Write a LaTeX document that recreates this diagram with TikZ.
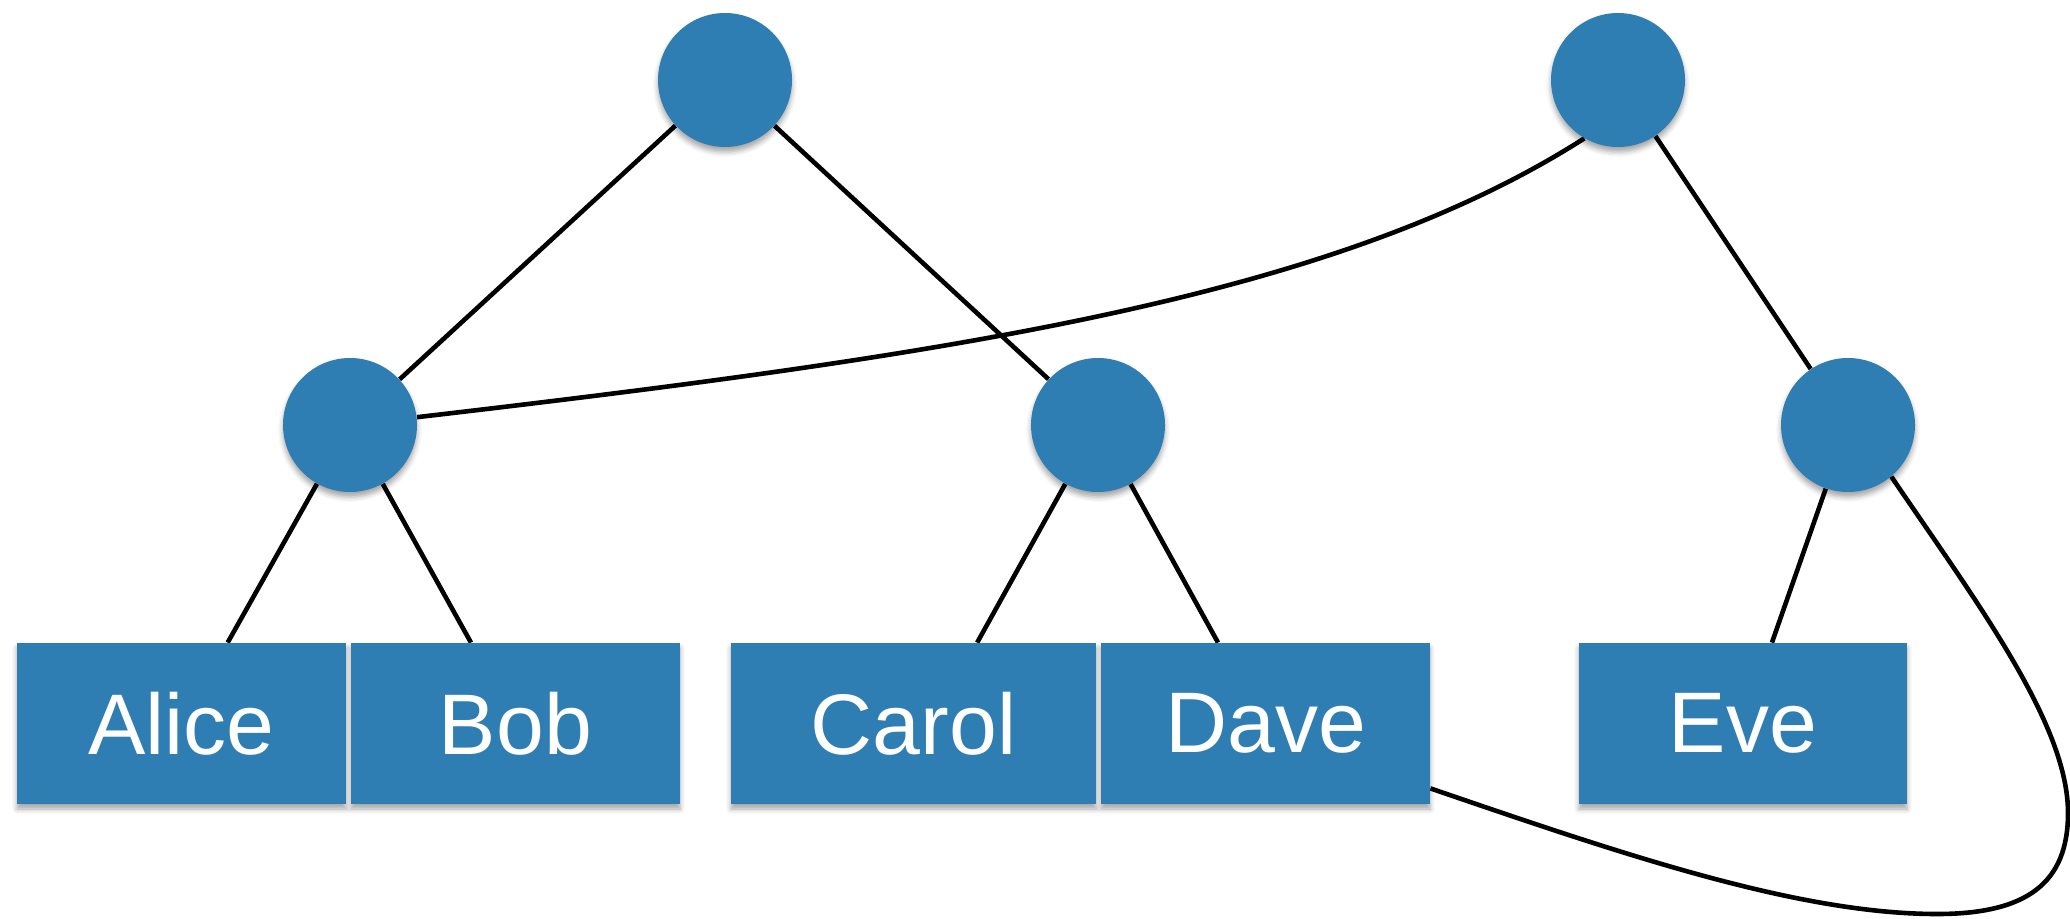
\documentclass[tikz,border=0pt]{standalone}
\usepackage{fontspec}
\setmainfont{Liberation Sans}
\usetikzlibrary{calc,backgrounds,shadows.blur}
\definecolor{nodeblue}{RGB}{46,126,180}
\tikzset{
  inner/.style={circle, fill=nodeblue, minimum size=67pt, inner sep=0pt,
    blur shadow={shadow xshift=0pt, shadow yshift=-2.5pt, shadow blur radius=2.5pt, shadow opacity=35}},
  leaf/.style={rectangle, fill=nodeblue, minimum height=80.5pt, inner sep=0pt,
    text=white, font=\fontsize{43}{50}\selectfont,
    blur shadow={shadow xshift=0pt, shadow yshift=-2.5pt, shadow blur radius=2.5pt, shadow opacity=35}},
  link/.style={draw=black, line width=2.3pt},
}
\begin{document}
\begin{tikzpicture}[x=0.5pt, y=-0.5pt]
  \useasboundingbox (0,0) rectangle (2070,919);

  % inner vertices
  \node[inner] (top1) at (725,80) {};
  \node[inner] (top2) at (1618,80) {};
  \node[inner] (mid1) at (350,425) {};
  \node[inner] (mid2) at (1098,425) {};
  \node[inner] (mid3) at (1848,425) {};

  % leaves
  \node[leaf, minimum width=164.5pt] (alice) at (181.5,723.5) {Alice};
  \node[leaf, minimum width=164.5pt] (bob)   at (515.5,723.5) {Bob};
  \node[leaf, minimum width=182.5pt] (carol) at (913.5,723.5) {Carol};
  \node[leaf, minimum width=164.5pt] (dave)  at (1265.5,723.5) {Dave};
  \node[leaf, minimum width=164pt]   (eve)   at (1743,723.5) {Eve};

  % waypoints of the loop below Eve
  \coordinate (loopbottom) at (1937,914);
  \coordinate (loopright)  at (2068,813);

  \begin{scope}[on background layer]
    % tree edges
    \draw[link] (top1) -- (mid1);
    \draw[link] (top1) -- (mid2);
    \draw[link] (top2) -- (mid3);
    \draw[link] (mid1) -- ($(alice.north west)!0.64!(alice.north east)$);
    \draw[link] (mid1) -- ($(bob.north west)!0.365!(bob.north east)$);
    \draw[link] (mid2) -- ($(carol.north west)!0.674!(carol.north east)$);
    \draw[link] (mid2) -- ($(dave.north west)!0.356!(dave.north east)$);
    \draw[link] (mid3) -- ($(eve.north west)!0.588!(eve.north east)$);
    % extra curved links
    \draw[link] (mid1) .. controls +(600,-70) and +(-250,160) .. (top2.240);
    \draw[link] ($(dave.south east)+(0,-16)$)
      .. controls +(190,65) and +(-140,0) .. (loopbottom)
      .. controls +(90,0) and +(0,70) .. (loopright)
      .. controls +(0,-90) and +(84,124) .. (mid3.-50);
  \end{scope}
\end{tikzpicture}
\end{document}
